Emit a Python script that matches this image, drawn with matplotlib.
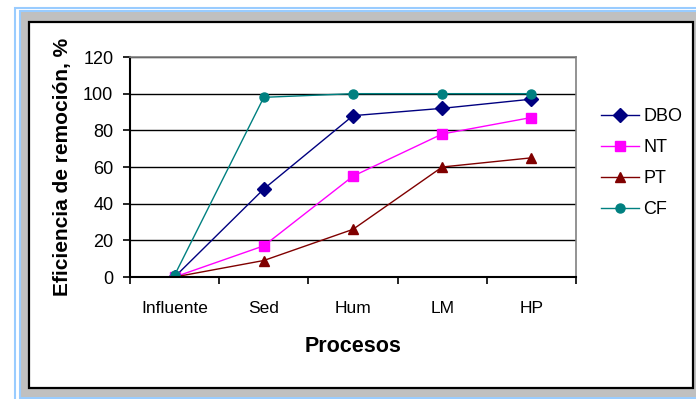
import matplotlib.pyplot as plt
from matplotlib.patches import Rectangle

plt.rcParams['font.family'] = ['Liberation Sans', 'DejaVu Sans']

procesos = ['Influente', 'Sed', 'Hum', 'LM', 'HP']
dbo = [0, 48, 88, 92, 97]
nt = [0, 17, 55, 78, 87]
pt = [0, 9, 26, 60, 65]
cf = [1, 98, 100, 100, 100]

W, H = 696, 399
fig = plt.figure(figsize=(W / 100, H / 100), dpi=100)


def px_rect(x0, y0, x1, y1, **kw):
    # rectangle given in pixel coords (origin top-left), kept behind the axes
    r = Rectangle((x0 / W, 1 - y1 / H), (x1 - x0) / W, (y1 - y0) / H,
                  transform=fig.transFigure, zorder=-10, **kw)
    fig.patches.append(r)


# outer frames
px_rect(14.5, 7.5, 700, 402, facecolor='white', edgecolor='#99CCFF', linewidth=1.5)
px_rect(19.5, 11, 700, 397.5, facecolor='#C0C0C0', edgecolor='#99CCFF', linewidth=1.5)
px_rect(28.5, 21.5, 693, 388, facecolor='white', edgecolor='black', linewidth=1.6)

ax = fig.add_axes([130 / W, 1 - 277 / H, 446 / W, 220 / H])
ax.set_facecolor('white')
x = range(len(procesos))

ax.plot(x, dbo, color='#000080', marker='D', markersize=6.8, linewidth=1, label='DBO')
ax.plot(x, nt, color='#FF00FF', marker='s', markersize=6.5, linewidth=1, label='NT')
ax.plot(x, pt, color='#800000', marker='^', markersize=7.5, linewidth=1, label='PT')
ax.plot(x, cf, color='#008080', marker='o', markersize=6.5, linewidth=1, label='CF')

ax.set_xlim(-0.5, len(procesos) - 0.5)
ax.set_ylim(0, 120)
ax.set_yticks(range(0, 121, 20))
ax.set_xticks(list(x))
ax.set_xticklabels(procesos)
ax.set_xticks([i - 0.5 for i in range(len(procesos) + 1)], minor=True)
ax.tick_params(axis='x', which='major', length=0, pad=17, labelsize=12.5)
ax.tick_params(axis='x', which='minor', length=5, width=1.2, direction='out')
ax.tick_params(axis='y', length=5, width=1.2, direction='out', pad=7, labelsize=13)

ax.grid(axis='y', color='black', linewidth=1)
ax.set_axisbelow(True)
for side in ('top', 'right'):
    ax.spines[side].set_color('#808080')
    ax.spines[side].set_linewidth(1.2)
for side in ('left', 'bottom'):
    ax.spines[side].set_color('black')
    ax.spines[side].set_linewidth(1.5)

ax.set_xlabel('Procesos', fontsize=15.5, fontweight='bold', labelpad=15)
ax.set_ylabel('Eficiencia de remoción, %', fontsize=15, fontweight='bold', labelpad=8)

fig.legend(loc='upper left', bbox_to_anchor=(592 / W, 1 - 99 / H), frameon=False,
           fontsize=13, handlelength=2.1, handletextpad=0.25, labelspacing=0.78,
           borderpad=0)

fig.savefig('out.png', dpi=100)
